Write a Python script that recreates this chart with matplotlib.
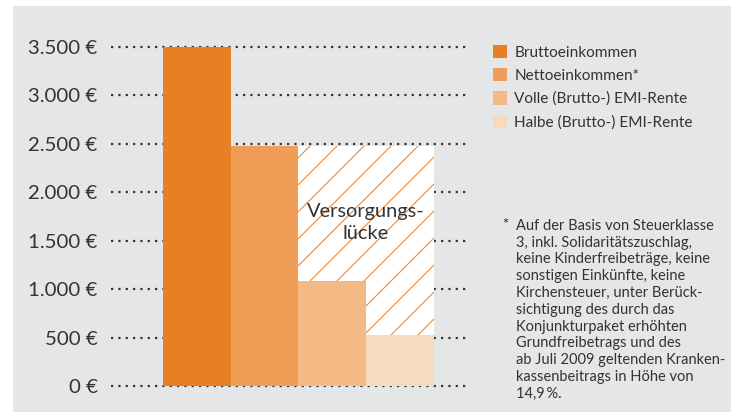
import matplotlib
matplotlib.use("Agg")
import matplotlib.pyplot as plt
import numpy as np
from matplotlib.patches import Rectangle
from matplotlib.collections import LineCollection
from matplotlib.transforms import IdentityTransform

labels = ["Bruttoeinkommen", "Nettoeinkommen*", "Volle (Brutto-) EMI-Rente", "Halbe (Brutto-) EMI-Rente"]
values = [3500, 2480, 1080, 530]
colors = ["#E97F23", "#EF9D57", "#F3BA86", "#F8DABE"]
gap_top = 2480
gap_label = "Versorgungs-\nlücke"
yticks = [0, 500, 1000, 1500, 2000, 2500, 3000, 3500]
footnote = ("Auf der Basis von Steuerklasse\n3, inkl. Solidaritätszuschlag,\n"
            "keine Kinderfreibeträge, keine\nsonstigen Einkünfte, keine\n"
            "Kirchensteuer, unter Berück-\nsichtigung des durch das\n"
            "Konjunkturpaket erhöhten\nGrundfreibetrags und des\n"
            "ab Juli 2009 geltenden Kranken-\nkassenbeitrags in Höhe von\n14,9\u2009%.")

plt.rcParams['font.family'] = ['Lato', 'DejaVu Sans']
txt = "#333333"

W, H, DPI = 731, 412, 160
fig = plt.figure(figsize=(W / DPI, H / DPI), dpi=DPI)
fig.patch.set_facecolor("white")
fig.patches.append(Rectangle((13 / W, 0), 1 - 13 / W, 1 - 6 / H, transform=fig.transFigure,
                             facecolor="#E5E6E8", edgecolor="none", zorder=-10))

# axes placed in pixel coords: x 111..470, y 30..395 (from top)
ax = fig.add_axes([111 / W, 1 - 395 / H, (470 - 111) / W, (395 - 30) / H])
ax.set_facecolor("none")
px_per = (386 - 47) / 3500
ax.set_ylim(-(395 - 386) / px_per, 3500 + (47 - 30) / px_per)
ax.set_xlim(-1.268, 4.035)

x = list(range(len(values)))
bars = ax.bar(x, values, width=1.0, color=colors, zorder=3, linewidth=0)
# white gap above the EMI pensions, hatched with thin diagonal lines
gap = ax.bar(x[2:], [gap_top - v for v in values[2:]], bottom=values[2:], width=1.0,
             color="white", linewidth=0, zorder=2)
offs = np.arange(-800, 800, 27.0)
segs = [[(0, c), (1200, c + 1200)] for c in offs]
for p in gap.patches:
    lc = LineCollection(segs, colors="#EE8A35", linewidths=0.5, transform=IdentityTransform(), zorder=2.5)
    ax.add_collection(lc, autolim=False)
    lc.set_clip_path(p)

ax.text(2.5, 1690, gap_label, ha="center", va="center", fontsize=9.0, color=txt,
        linespacing=1.4, zorder=4)

ax.set_yticks(yticks)
ax.set_yticklabels([f"{v:,}".replace(",", ".") + " €" for v in yticks])
ax.tick_params(axis="y", length=0, pad=6, labelsize=9.2, labelcolor=txt)
ax.set_xticks([])
ax.grid(axis="y", color="#333333", linestyle=(0, (1, 2.3)), linewidth=1.0, zorder=0)
ax.set_axisbelow(True)
for s in ax.spines.values():
    s.set_visible(False)

fig.legend(bars, labels, loc="upper left", bbox_to_anchor=(485 / W, 1 - 37 / H),
           frameon=False, fontsize=6.9, handlelength=0.95, handleheight=0.95,
           handletextpad=0.45, labelspacing=0.55, borderpad=0, labelcolor=txt)

fig.text(502 / W, 1 - 218 / H, "*", fontsize=6.6, color=txt, va="top")
fig.text(516 / W, 1 - 219 / H, footnote, fontsize=6.6, color=txt, va="top", linespacing=1.25)

fig.savefig("out.png", dpi=DPI)
